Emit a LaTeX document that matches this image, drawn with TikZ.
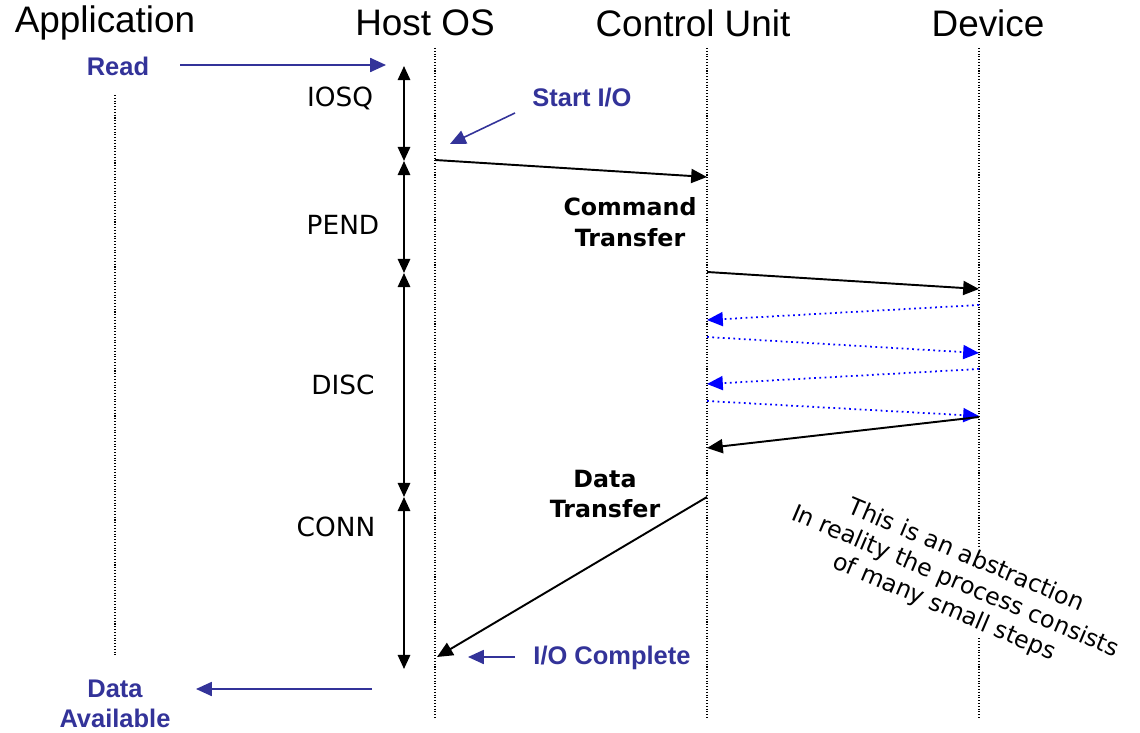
\documentclass[tikz,border=0pt]{standalone}
\usepackage{fontspec}
\setmainfont{Liberation Sans}
\newfontfamily\dejavu{DejaVu Sans}
\usetikzlibrary{arrows.meta}
\definecolor{navy}{HTML}{333399}
\definecolor{pureblue}{HTML}{0000FF}
\tikzset{
  title/.style={font=\fontsize{21}{25}\selectfont, inner sep=0pt},
  bluelabel/.style={font=\fontsize{14.5}{17}\selectfont\bfseries, text=navy, inner sep=0pt, align=center},
  phase/.style={font=\dejavu\fontsize{15}{18}\selectfont, inner sep=0pt},
  xfer/.style={font=\dejavu\fontsize{13.5}{17.5}\selectfont\bfseries, inner sep=0pt, align=center},
  lifeline/.style={densely dotted, line width=0.6pt},
  msg/.style={-{Triangle[length=9pt,width=8pt]}, line width=1.1pt},
  bluemsg/.style={-{Triangle[length=9pt,width=8pt]}, line width=0.9pt, navy},
  dotmsg/.style={-{Triangle[length=9pt,width=8pt]}, line width=1pt, pureblue, dotted},
  span/.style={{Triangle[length=8pt,width=7pt]}-{Triangle[length=8pt,width=7pt]}, line width=1.2pt},
}
\begin{document}
\begin{tikzpicture}[x=0.02cm,y=-0.02cm]
\useasboundingbox (0,0) rectangle (1140,733);
% titles
\node[title] (tapp) at (105,23) {Application};
\node[title] (thost) at (425,23) {Host OS};
\node[title] (tcu) at (693,23) {Control Unit};
\node[title] (tdev) at (988,23) {Device};
% lifelines
\coordinate (appT) at (115,95); \coordinate (appB) at (115,655);
\coordinate (hostT) at (435,48); \coordinate (hostB) at (435,718);
\coordinate (cuT) at (707,48); \coordinate (cuB) at (707,718);
\coordinate (devT) at (979,48); \coordinate (devB) at (979,718);
\draw[lifeline] (appT) -- (appB);
\draw[lifeline] (hostT) -- (hostB);
\draw[lifeline] (cuT) -- (cuB);
\draw[lifeline] (devT) -- (devB);
% phase spans
\coordinate (s0) at (404,66);
\coordinate (s1) at (404,161);
\coordinate (s2) at (404,273);
\coordinate (s3) at (404,497);
\coordinate (s4) at (404,669);
\draw[span] (s0) -- (s1);
\draw[span] (s1) -- (s2);
\draw[span] (s2) -- (s3);
\draw[span] (s3) -- (s4);
\node[phase] (iosq) at (340,98) {IOSQ};
\node[phase] (pend) at (343,225) {PEND};
\node[phase] (disc) at (343,385) {DISC};
\node[phase] (conn) at (336,527) {CONN};
% blue labels
\node[bluelabel] (read) at (118,66) {Read};
\coordinate (readA) at (180,65); \coordinate (readB) at (386,65);
\draw[bluemsg] (readA) -- (readB);
\node[bluelabel] (start) at (582,98) {Start I/O};
\coordinate (startA) at (515,113); \coordinate (startB) at (450,144);
\draw[bluemsg] (startA) -- (startB);
\node[bluelabel] (iocomp) at (612,658) {I/O Complete};
\coordinate (compA) at (515,657); \coordinate (compB) at (468,657);
\draw[bluemsg] (compA) -- (compB);
\node[bluelabel] (avail) at (115,704) {Data\\Available};
\coordinate (availA) at (372,689); \coordinate (availB) at (196,689);
\draw[bluemsg] (availA) -- (availB);
% messages
\coordinate (m1a) at (435,160); \coordinate (m1b) at (707,177);
\draw[msg] (m1a) -- (m1b);
\node[xfer] (cmd) at (630,222) {Command\\Transfer};
\coordinate (m2a) at (707,272); \coordinate (m2b) at (979,289);
\draw[msg] (m2a) -- (m2b);
\coordinate (d1a) at (979,305); \coordinate (d1b) at (707,320);
\coordinate (d2a) at (707,337); \coordinate (d2b) at (979,353);
\coordinate (d3a) at (979,369); \coordinate (d3b) at (707,384);
\coordinate (d4a) at (707,401); \coordinate (d4b) at (979,416);
\draw[dotmsg] (d1a) -- (d1b);
\draw[dotmsg] (d2a) -- (d2b);
\draw[dotmsg] (d3a) -- (d3b);
\draw[dotmsg] (d4a) -- (d4b);
\coordinate (m3a) at (979,417); \coordinate (m3b) at (707,448);
\draw[msg] (m3a) -- (m3b);
\node[xfer] (data) at (605,494) {Data\\Transfer};
\coordinate (m4a) at (707,497); \coordinate (m4b) at (437,657);
\draw[msg] (m4a) -- (m4b);
% note
\node[font=\dejavu\fontsize{13.5}{16}\selectfont, fill=white, inner sep=1pt, align=center, rotate=-23] (note) at (955,582)
  {This is an abstraction\\In reality the process consists\\of many small steps};
\end{tikzpicture}
\end{document}
